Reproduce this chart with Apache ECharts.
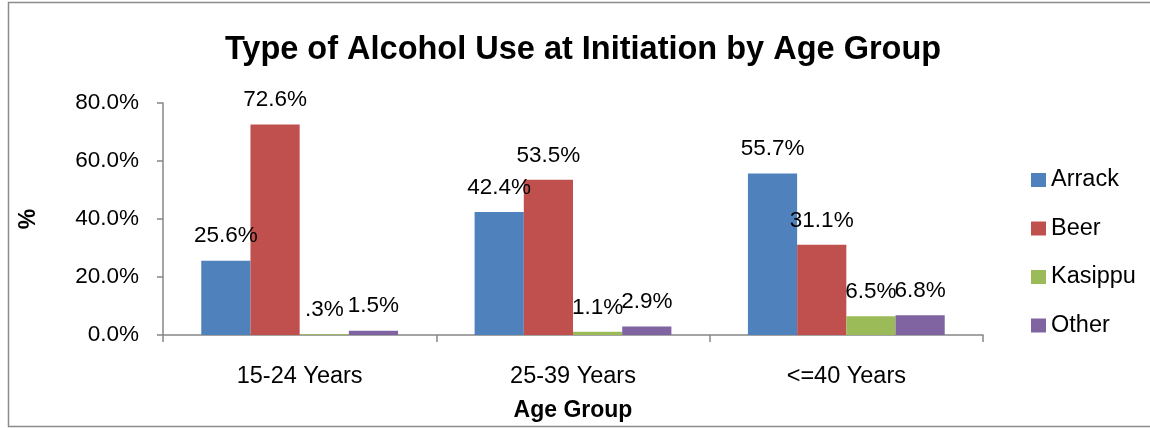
<!DOCTYPE html>
<html>
<head>
<meta charset="utf-8">
<script src="https://cdn.jsdelivr.net/npm/echarts@6/dist/echarts.min.js"></script>
<style>
html,body{margin:0;padding:0;background:#fff;}
#chart{width:1150px;height:428px;}
</style>
</head>
<body>
<div id="chart"></div>
<script>
var categories = ['15-24 Years', '25-39 Years', '<=40 Years'];
var arrack = [25.6, 42.4, 55.7];
var beer = [72.6, 53.5, 31.1];
var kasippu = [0.3, 1.1, 6.5];
var other = [1.5, 2.9, 6.8];
var seriesNames = ['Arrack', 'Beer', 'Kasippu', 'Other'];
var seriesColors = ['#4F81BD', '#C0504D', '#9BBB59', '#8064A2'];
var yTicks = [0, 20, 40, 60, 80];

var FONT = 'Liberation Sans';
function pctLabel(v) {
  var s = v.toFixed(1);
  if (s.charAt(0) === '0') s = s.slice(1);
  return s + '%';
}
var allData = [arrack, beer, kasippu, other];
var series = allData.map(function (d, i) {
  return {
    name: seriesNames[i],
    type: 'bar',
    data: d,
    barGap: '0%',
    barCategoryGap: '28%',
    itemStyle: { color: seriesColors[i] },
    label: {
      show: true,
      position: 'top',
      distance: 13,
      color: '#000',
      fontFamily: FONT,
      fontSize: 22.5,
      formatter: function (p) { return pctLabel(p.value); }
    }
  };
});

var chart = echarts.init(document.getElementById('chart'), null, { renderer: 'canvas' });
chart.setOption({
  animation: false,
  backgroundColor: '#fff',
  title: {
    text: 'Type of Alcohol Use at Initiation by Age Group',
    left: 578,
    textAlign: 'center',
    top: 29,
    textStyle: { fontFamily: FONT, fontWeight: 'bold', fontSize: 32.5, color: '#000' }
  },
  legend: {
    orient: 'vertical',
    left: 1026,
    top: 163,
    itemWidth: 15,
    itemHeight: 14,
    itemGap: 24.5,
    icon: 'rect',
    data: seriesNames,
    textStyle: { fontFamily: FONT, fontSize: 23.5, color: '#000' }
  },
  grid: { left: 163, right: 167, top: 103, bottom: 93 },
  xAxis: {
    type: 'category',
    data: categories,
    name: 'Age Group',
    nameLocation: 'middle',
    nameGap: 64,
    nameTextStyle: { fontFamily: FONT, fontWeight: 'bold', fontSize: 23, color: '#000' },
    axisLine: { lineStyle: { color: '#868686', width: 1.5 } },
    axisTick: { show: true, length: 7, lineStyle: { color: '#868686', width: 1.5 } },
    axisLabel: { margin: 30, fontFamily: FONT, fontSize: 23.5, color: '#000' }
  },
  yAxis: {
    type: 'value',
    min: yTicks[0],
    max: yTicks[yTicks.length - 1],
    interval: yTicks[1] - yTicks[0],
    name: '%',
    nameLocation: 'middle',
    nameRotate: 90,
    nameGap: 123,
    nameTextStyle: { fontFamily: FONT, fontWeight: 'bold', fontSize: 23, color: '#000' },
    axisLine: { show: true, lineStyle: { color: '#868686', width: 1.5 } },
    axisTick: { show: true, length: 6, lineStyle: { color: '#868686', width: 1.5 } },
    splitLine: { show: false },
    axisLabel: {
      margin: 24,
      fontFamily: FONT,
      fontSize: 22.5,
      color: '#000',
      formatter: function (v) { return v.toFixed(1) + '%'; }
    }
  },
  graphic: [{
    type: 'rect',
    silent: true,
    z: -10,
    shape: { x: 8.5, y: 2.5, width: 1145, height: 424 },
    style: { fill: 'none', stroke: '#8c8c8c', lineWidth: 1.5 }
  }],
  series: series
});
</script>
</body>
</html>
